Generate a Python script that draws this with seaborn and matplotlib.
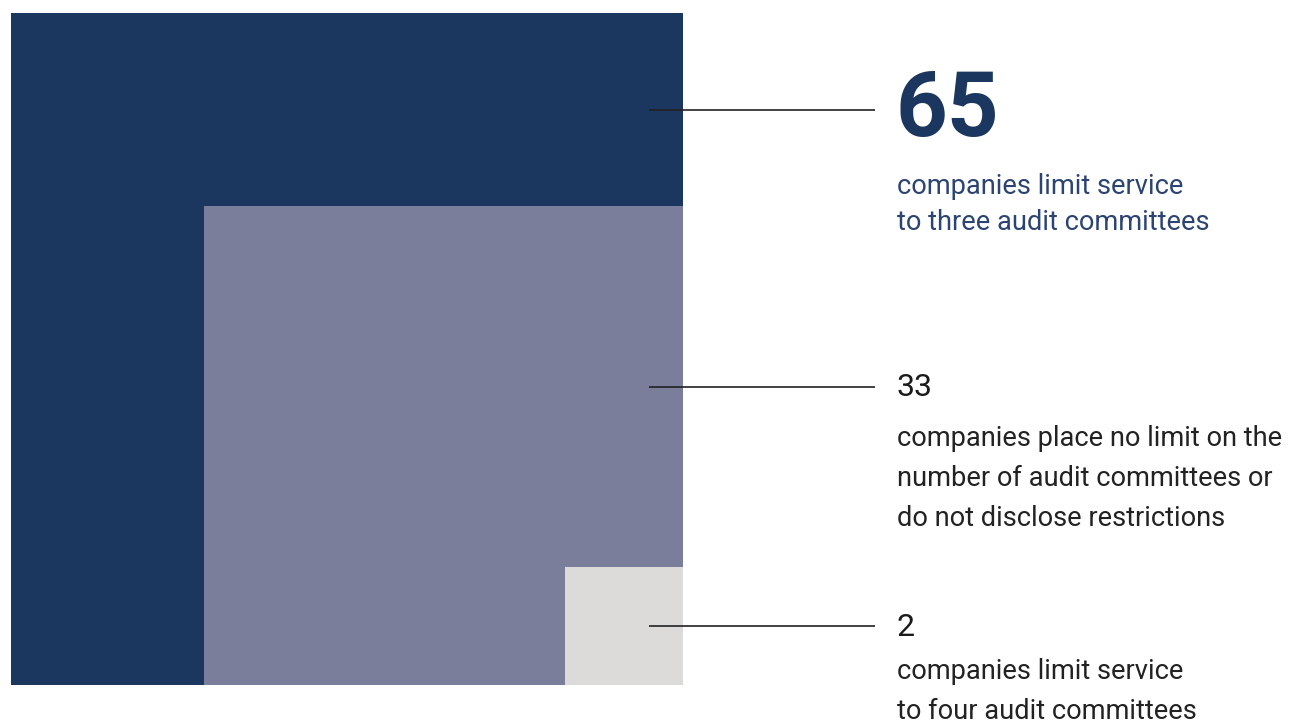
import numpy as np
import matplotlib
matplotlib.use("Agg")
import matplotlib.pyplot as plt
import seaborn as sns

# Number of companies in each audit-committee service category
values = [65, 33, 2]
headlines = ["65", "33", "2"]
descriptions = [
    ["companies limit service", "to three audit committees"],
    ["companies place no limit on the", "number of audit committees or", "do not disclose restrictions"],
    ["companies limit service", "to four audit committees"],
]
colors = ["#1b365f", "#7a7e9a", "#dcdbda"]
text_colors = ["#1b365f", "#1a1a1a", "#1a1a1a"]
desc_colors = ["#2b4472", "#222222", "#222222"]

sns.set_theme(style="white")
plt.rcParams["font.family"] = ["Roboto", "DejaVu Sans"]

W, H, DPI = 1297, 722, 100
fig = plt.figure(figsize=(W / DPI, H / DPI), dpi=DPI)
side_px = 672
ax = fig.add_axes([11 / W, (H - 685) / H, side_px / W, side_px / H])
ax.set_xlim(0, 1)
ax.set_ylim(0, 1)
ax.axis("off")

# Each square's area is proportional to its count, relative to the largest
sides = np.sqrt(np.array(values) / max(values))
for s, c in zip(sides, colors):
    ax.bar(1 - s, s, width=s, bottom=0, align="edge", color=c, linewidth=0)

px = 1 / side_px
x_line0 = (649 - 11) * px
x_line1 = (875 - 11) * px
x_text = (897 - 11) * px

next_sides = list(sides[1:]) + [0.0]
for i, (s, ns) in enumerate(zip(sides, next_sides)):
    y = (s + ns) / 2
    ax.plot([x_line0, x_line1], [y, y], color="#222222", lw=1.2, clip_on=False,
            solid_capstyle="butt")
    if i == 0:
        ax.text(x_text - 2 * px, y - 1 * px, headlines[i], fontsize=65, fontweight="bold",
                color=text_colors[i], ha="left", va="center", clip_on=False)
        first = y - 77 * px
        step = 36 * px
    else:
        ax.text(x_text, y - 1 * px, headlines[i], fontsize=23, fontweight="normal",
                color=text_colors[i], ha="left", va="center", clip_on=False)
        first = y - 52 * px if i == 1 else y - 45 * px
        step = 40 * px
    for j, line in enumerate(descriptions[i]):
        ax.text(x_text, first - j * step, line, fontsize=19.6, fontweight="normal",
                color=desc_colors[i], ha="left", va="center", clip_on=False)

fig.savefig("out.png", dpi=DPI)
